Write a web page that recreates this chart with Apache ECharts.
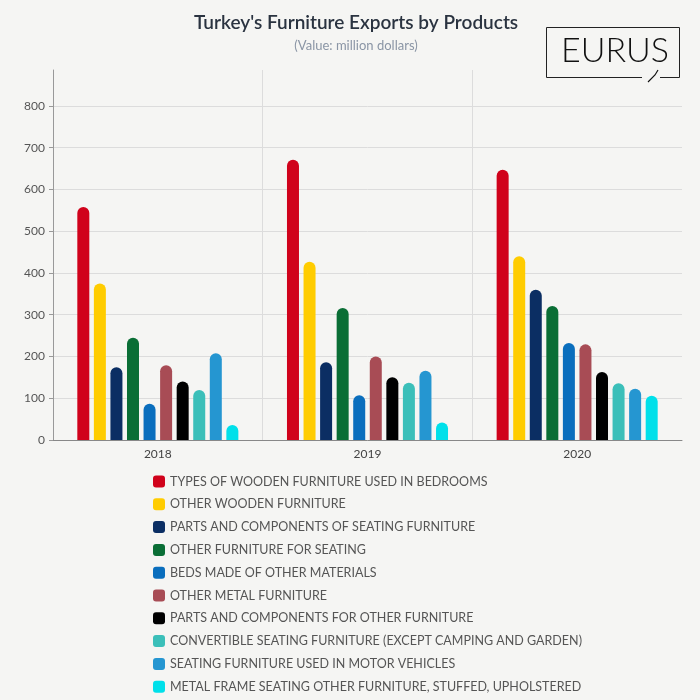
<!DOCTYPE html>
<html><head><meta charset="utf-8">
<script src="https://cdn.jsdelivr.net/npm/echarts@6/dist/echarts.min.js"></script>
<style>html,body{margin:0;padding:0;background:#f5f5f3;}#c{width:700px;height:700px;}</style>
</head><body><div id="c"></div>
<script>
const years = ['2018', '2019', '2020'];
const seriesNames = [
  'TYPES OF WOODEN FURNITURE USED IN BEDROOMS',
  'OTHER WOODEN FURNITURE',
  'PARTS AND COMPONENTS OF SEATING FURNITURE',
  'OTHER FURNITURE FOR SEATING',
  'BEDS MADE OF OTHER MATERIALS',
  'OTHER METAL FURNITURE',
  'PARTS AND COMPONENTS FOR OTHER FURNITURE',
  'CONVERTIBLE SEATING FURNITURE (EXCEPT CAMPING AND GARDEN)',
  'SEATING FURNITURE USED IN MOTOR VEHICLES',
  'METAL FRAME SEATING OTHER FURNITURE, STUFFED, UPHOLSTERED'
];
const woodenBedrooms = [558, 671, 647];
const otherWooden = [375, 427, 440];
const partsSeating = [174, 186, 360];
const otherSeating = [245, 316, 321];
const bedsOther = [87, 107, 232];
const otherMetal = [179, 200, 229];
const partsOther = [140, 150, 163];
const convertible = [120, 137, 136];
const motorVehicles = [208, 166, 123];
const metalFrame = [36, 42, 106];
const colors = ['#d0021b','#ffcc00','#0b2e63','#0a6e35','#0a6ebd','#a84c55','#000000','#3bbfb9','#2596d1','#00e0ea'];
const allValues = [woodenBedrooms, otherWooden, partsSeating, otherSeating, bedsOther, otherMetal, partsOther, convertible, motorVehicles, metalFrame];

const chart = echarts.init(document.getElementById('c'));
chart.setOption({
  backgroundColor: '#f5f5f3',
  animation: false,
  textStyle: { fontFamily: 'Lato' },
  title: {
    text: "Turkey's Furniture Exports by Products",
    subtext: '(Value: million dollars)',
    left: 351, top: 8, textAlign: 'center',
    itemGap: 7,
    textStyle: { fontFamily: 'Lato', fontSize: 19, fontWeight: 600, color: '#2a3340' },
    subtextStyle: { fontFamily: 'Lato', fontSize: 13, color: '#8a95a5' }
  },
  graphic: [
    { type: 'polyline', shape: { points: [[642, 77.5], [546.5, 77.5], [546.5, 27.5], [679.5, 27.5], [679.5, 77.5], [660, 77.5]] },
      style: { fill: 'none', stroke: '#222', lineWidth: 1 } },
    { type: 'text', left: 561, top: 34, style: { text: 'EURUS', font: '300 34px Lato', fill: '#111' } },
    { type: 'polyline', shape: { points: [[658, 70], [655, 75], [648, 82]] },
      style: { fill: 'none', stroke: '#111', lineWidth: 1.2 } }
  ],
  legend: {
    orient: 'vertical', left: 153, top: 475, padding: 0,
    height: 230,
    itemWidth: 12, itemHeight: 12, itemGap: 9.8,
    icon: 'roundRect',
    textStyle: { fontFamily: 'Lato', fontSize: 12.5, color: '#555', padding: [0, 0, 0, 0] },
    data: seriesNames
  },
  grid: { left: 53, right: 18, top: 70, bottom: 260 },
  xAxis: {
    type: 'category', data: years,
    axisLine: { lineStyle: { color: '#888' } },
    axisTick: { alignWithLabel: true, length: 4, lineStyle: { color: '#888' } },
    axisLabel: { color: '#444', fontSize: 12, margin: 8 },
    splitLine: { show: true, lineStyle: { color: ['transparent', '#dcdcdc', '#dcdcdc', 'transparent'] } }
  },
  yAxis: {
    type: 'value', min: 0, max: 886, interval: 100,
    axisLine: { show: true, lineStyle: { color: '#999' } },
    axisTick: { show: true, length: 4, lineStyle: { color: '#999' } },
    axisLabel: { color: '#555', fontSize: 12, margin: 8, showMaxLabel: false },
    splitLine: { lineStyle: { color: ['#dcdcdc','#dcdcdc','#dcdcdc','#dcdcdc','#dcdcdc','#dcdcdc','#dcdcdc','#dcdcdc','#dcdcdc','transparent'] } }
  },
  series: seriesNames.map((n, i) => ({
    name: n, type: 'bar', data: allValues[i],
    barWidth: 12, barGap: '38%', barCategoryGap: '23%',
    itemStyle: { color: colors[i], borderRadius: [6, 6, 0, 0] }
  }))
});
</script></body></html>
